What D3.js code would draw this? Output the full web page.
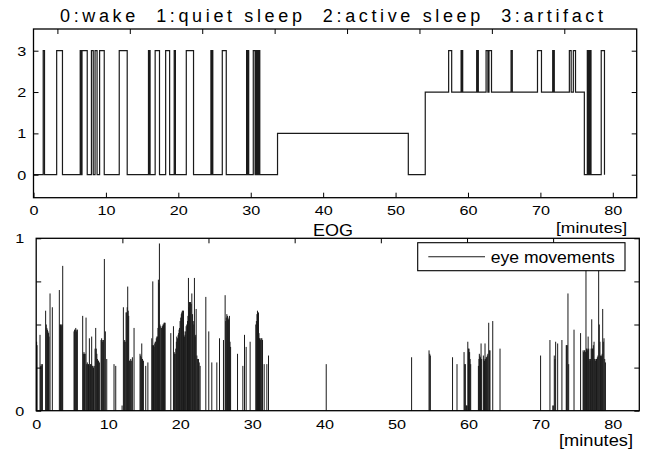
<!DOCTYPE html>
<html><head><meta charset="utf-8">
<script src="https://cdn.jsdelivr.net/npm/d3@7"></script>
<style>
html,body{margin:0;padding:0;background:#fff;}
svg{display:block;}
text{font-family:"Liberation Sans",Arial,sans-serif;fill:#000;}
</style></head><body>
<svg id="chart" width="651" height="454"></svg>
<script>
// ---------- data ----------
const stageTitle = "0:wake  1:quiet sleep  2:active sleep  3:artifact";
const stageTicks = [0, 1, 2, 3];
const minuteTicks = [0, 10, 20, 30, 40, 50, 60, 70, 80];
const upperTopTicks = [3.3, 13.3, 23.3, 33.3, 43.3, 53.3, 63.3, 73.3];
const lowerTopTicks = [11.96, 23.91, 35.87, 47.83, 59.79, 71.74];
const eogTicks = [0, 0.25, 0.5, 0.75, 1];
const eogLabelled = [0, 1];
const legendLabel = "eye movements";
const xLabel = "[minutes]";
const eogTitle = "EOG";

// sleep stage: state from each time until the next time
const stageTimes = [0, 1.34, 1.52, 3.2, 4.0,
  6.45, 6.52, 6.58, 6.64, 6.7, 7.42,
  8.0, 8.25, 8.5, 8.78, 9.13, 9.77,
  11.84, 12.94,
  15.88, 15.96, 16.02, 16.1,
  16.8, 17.4, 18.25, 18.8, 19.43, 19.6, 21.1, 22.1,
  24.5, 24.58, 24.66, 24.76, 26.07, 26.62,
  29.43, 29.5, 29.6, 29.72,
  30.35, 30.6, 30.7, 30.85, 30.92, 31.05, 31.1, 31.25,
  33.7, 51.76, 54.1,
  57.33, 57.75, 59.05, 59.12, 59.18, 59.27,
  61.2, 61.28, 61.34, 61.43, 62.5, 62.75, 62.9, 63.25,
  65.95, 66.12, 69.6, 70.15, 71.7, 71.78, 71.84, 71.92,
  74.0, 74.25, 74.55, 74.85,
  76.07, 76.48, 76.56, 76.62, 76.7, 76.76, 76.84, 76.9, 76.99,
  78.4, 78.85];
const stageValues = [0, 3, 0, 3, 0,
  3, 0, 3, 0, 3, 0,
  3, 0, 3, 0, 3, 0,
  3, 0,
  3, 0, 3, 0,
  3, 0, 3, 0, 3, 0, 3, 0,
  3, 0, 3, 0, 3, 0,
  3, 0, 3, 0,
  3, 0, 3, 0, 3, 0, 3, 0,
  1, 0, 2,
  3, 2, 3, 2, 3, 2,
  3, 2, 3, 2, 3, 2, 3, 2,
  3, 2, 3, 2, 3, 2, 3, 2,
  3, 2, 3, 2,
  0, 3, 0, 3, 0, 3, 0, 3, 0,
  3, 0];

// EOG eye movement amplitudes
const eogTimes = [0.06, 0.12, 0.53, 0.62, 0.7, 0.78, 0.86,
  1.31, 1.4, 1.48, 1.56, 1.64, 1.72, 1.78, 1.92, 2.24,
  3.21, 3.3, 3.38, 3.46, 3.54, 3.62, 3.68,
  5.25, 5.33, 5.41, 5.49, 5.57, 5.65, 5.71,
  6.45, 6.55, 6.63, 6.71, 6.8, 6.92, 7.01, 7.09, 7.17, 7.26, 7.38, 7.47, 7.55, 7.62, 7.7, 7.78, 7.86, 7.95, 8.05,
  8.17, 8.26, 8.34, 8.42, 8.5, 8.58, 8.66, 8.77,
  9.0, 9.08, 9.16, 9.24, 9.33, 9.46, 9.6, 9.79,
  10.8, 11.04,
  11.92, 12.1, 12.2, 12.28, 12.36, 12.47, 12.56, 12.63, 12.7, 12.77, 12.84, 12.93, 13.03, 13.12, 13.2, 13.35, 13.58,
  14.41, 14.5, 14.58, 14.65, 14.75, 14.88, 15.2, 15.5,
  16.04, 16.12, 16.18, 16.28, 16.36, 16.45, 16.52, 16.59, 16.67, 16.75, 16.82, 16.9, 16.96, 17.03, 17.1, 17.18, 17.29, 17.38,
  17.52, 17.6, 17.66, 17.74, 17.82, 17.89,
  18.68,
  19.05, 19.15, 19.22, 19.28, 19.38, 19.45, 19.51, 19.6, 19.7, 19.77, 19.83, 19.9, 19.97, 20.06, 20.14, 20.2, 20.28, 20.36, 20.44,
  20.5, 20.57, 20.66, 20.74, 20.81, 20.9, 21.0, 21.06, 21.13, 21.2, 21.27, 21.35, 21.43, 21.51, 21.6, 21.7, 21.8, 21.88, 21.96,
  22.06, 22.14, 22.2, 22.3, 22.4, 22.52, 22.62, 22.75,
  23.54, 23.95, 24.37, 25.07, 25.44, 25.99,
  26.22, 26.3, 26.38, 26.46, 26.54, 26.62, 26.7, 26.82, 26.9, 26.98,
  27.94, 28.68, 28.91, 29.14, 29.69,
  30.48, 30.56, 30.64, 30.71, 30.78, 30.85, 30.92, 30.99, 31.07, 31.15, 31.23, 31.32, 31.41, 31.64, 32.01, 32.24,
  40.25, 52.1, 54.52, 54.62, 54.7,
  57.78, 58.4,
  59.38, 59.47, 59.56, 59.65, 59.73, 59.81, 59.9, 60.0, 60.07, 60.15, 60.22, 60.3,
  61.37, 61.45, 61.5, 61.58, 61.66, 61.74, 61.82,
  62.06, 62.14, 62.22, 62.29, 62.37, 62.45, 62.52, 62.6, 62.68, 62.8, 62.9, 62.98,
  63.36, 64.37,
  70.0, 71.3, 71.7, 71.77, 71.9, 72.0, 72.09, 72.37, 72.96, 73.56, 73.62, 73.7, 73.8, 73.9, 74.64, 75.55,
  75.9, 75.98, 76.06, 76.14, 76.22, 76.3, 76.38, 76.46, 76.54, 76.6, 76.68, 76.76, 76.86, 76.94, 77.02, 77.1, 77.18, 77.24,
  77.32, 77.42, 77.5, 77.6, 77.68, 77.76, 77.88, 77.96, 78.06, 78.15, 78.24, 78.32, 78.39, 78.47, 78.55, 78.62, 78.7, 78.8, 78.9, 79.0];
const eogValues = [0.40, 0.38, 0.44, 0.26, 0.27, 0.26, 0.27,
  0.58, 0.50, 0.48, 0.47, 0.46, 0.45, 0.43, 0.68, 0.60,
  0.70, 0.50, 0.50, 0.49, 0.50, 0.50, 0.84,
  0.46, 0.47, 0.47, 0.48, 0.46, 0.47, 0.47,
  0.55, 0.33, 0.34, 0.33, 0.33, 0.54, 0.27, 0.28, 0.27, 0.27, 0.42, 0.26, 0.27, 0.27, 0.43, 0.26, 0.26, 0.25, 0.26,
  0.36, 0.48, 0.36, 0.33, 0.30, 0.29, 0.29, 0.28,
  0.41, 0.42, 0.41, 0.40, 0.41, 0.88, 0.46, 0.30,
  0.27, 0.26,
  0.03, 0.60, 0.40, 0.41, 0.40, 0.57, 0.57, 0.60, 0.72, 0.58, 0.55, 0.29, 0.29, 0.30, 0.29, 0.31, 0.48,
  0.33, 0.32, 0.31, 0.39, 0.30, 0.29, 0.26, 0.28,
  0.42, 0.38, 0.75, 0.38, 0.37, 0.39, 0.40, 0.40, 0.42, 0.43, 0.43, 0.48, 0.76, 0.74, 0.97, 0.50, 0.49, 0.48,
  0.49, 0.50, 0.50, 0.51, 0.51, 0.51,
  0.45,
  0.49, 0.34, 0.33, 0.33, 0.36, 0.40, 0.43, 0.42, 0.44, 0.45, 0.47, 0.48, 0.52, 0.54, 0.56, 0.57, 0.58, 0.58, 0.58,
  0.46, 0.43, 0.44, 0.46, 0.49, 0.50, 0.52, 0.55, 0.77, 0.60, 0.63, 0.63, 0.63, 0.62, 0.68, 0.56, 0.52, 0.50, 0.77,
  0.43, 0.44, 0.59, 0.32, 0.30, 0.30, 0.28, 0.26,
  0.66, 0.46, 0.28, 0.28, 0.42, 0.41,
  0.67, 0.52, 0.54, 0.56, 0.55, 0.54, 0.53, 0.55, 0.40, 0.37,
  0.33, 0.26, 0.44, 0.37, 0.40,
  0.50, 0.52, 0.56, 0.58, 0.56, 0.57, 0.45, 0.42, 0.42, 0.41, 0.42, 0.42, 0.41, 0.27, 0.27, 0.32,
  0.27, 0.31, 0.35, 0.33, 0.32,
  0.31, 0.27,
  0.34, 0.27, 0.27, 0.03, 0.03, 0.03, 0.40, 0.36, 0.36, 0.34, 0.30, 0.27,
  0.26, 0.30, 0.33, 0.32, 0.31, 0.39, 0.30,
  0.32, 0.30, 0.29, 0.39, 0.30, 0.31, 0.31, 0.32, 0.33, 0.51, 0.35, 0.35,
  0.52, 0.36,
  0.32, 0.41, 0.03, 0.03, 0.32, 0.30, 0.40, 0.39, 0.41, 0.38, 0.38, 0.38, 0.68, 0.27, 0.47, 0.45,
  0.35, 0.34, 0.35, 0.35, 0.34, 0.90, 0.36, 0.36, 0.35, 0.43, 0.36, 0.30, 0.29, 0.30, 0.36, 0.53, 0.36, 0.36,
  0.38, 0.40, 0.30, 0.29, 0.30, 0.30, 0.31, 0.32, 0.90, 0.50, 0.40, 0.32, 0.31, 0.32, 0.33, 0.59, 0.40, 0.42, 0.30, 0.28];

// ---------- drawing ----------
const svg = d3.select("#chart");
const TX = 1.2; // horizontal stretch of tick-label glyphs
const intFmt = d3.format("d");

// ===== top panel =====
const xTop = d3.scaleLinear().domain([0, 83.3]).range([33.5, 636.7]);
const yTop = d3.scaleLinear().domain([-0.556, 3.525]).range([197.7, 29]);
const topG = svg.append("g");

const stagePts = stageTimes.map((t, i) => [t, stageValues[i]]);
topG.append("path")
  .attr("d", d3.line().x(d => xTop(d[0])).y(d => yTop(d[1])).curve(d3.curveStepAfter)(stagePts))
  .attr("fill", "none").attr("stroke", "#1a1a1a").attr("stroke-width", 1.2);

function styleAxis(g, scaleText) {
  g.select(".domain").remove();
  g.selectAll(".tick line").attr("stroke", "#000").attr("stroke-width", 1);
  g.selectAll(".tick text").attr("font-size", 13.5)
    .attr("font-family", "'Liberation Sans', Arial, sans-serif")
    .attr("transform", scaleText ? `scale(${TX},1)` : null);
}

topG.append("g").attr("transform", `translate(0,${yTop.range()[0]})`)
  .call(d3.axisBottom(xTop).tickValues(minuteTicks).tickFormat(intFmt).tickSizeInner(-5).tickSizeOuter(0).tickPadding(8))
  .call(g => styleAxis(g, true));
topG.append("g").attr("transform", `translate(0,${yTop.range()[1]})`)
  .call(d3.axisTop(xTop).tickValues(upperTopTicks).tickSizeInner(-5).tickSizeOuter(0).tickFormat(""))
  .call(g => styleAxis(g, false));
topG.append("g").attr("transform", `translate(${xTop.range()[0]},0)`)
  .call(d3.axisLeft(yTop).tickValues(stageTicks).tickFormat(intFmt).tickSizeInner(-5).tickSizeOuter(0).tickPadding(6))
  .call(g => styleAxis(g, true));
topG.append("g").attr("transform", `translate(${xTop.range()[1]},0)`)
  .call(d3.axisRight(yTop).tickValues(stageTicks).tickSizeInner(-5).tickSizeOuter(0).tickFormat(""))
  .call(g => styleAxis(g, false));

topG.append("rect")
  .attr("x", xTop.range()[0]).attr("y", yTop.range()[1])
  .attr("width", xTop.range()[1] - xTop.range()[0]).attr("height", yTop.range()[0] - yTop.range()[1])
  .attr("fill", "none").attr("stroke", "#000").attr("stroke-width", 1.3);

topG.append("text").attr("x", 60).attr("y", 21.5)
  .attr("font-family", "'Liberation Mono','Courier New',monospace").attr("font-size", 18)
  .attr("textLength", 543).attr("lengthAdjust", "spacing")
  .style("white-space", "pre")
  .text(stageTitle);

topG.append("text").attr("x", 556).attr("y", 233)
  .attr("font-size", 15.5).attr("textLength", 71).attr("lengthAdjust", "spacingAndGlyphs")
  .text(xLabel);

// ===== bottom panel =====
const xBot = d3.scaleLinear().domain([0, 83.7]).range([36.2, 639.3]);
const yBot = d3.scaleLinear().domain([0, 1]).range([410.7, 238.3]);
const botG = svg.append("g");

const eogPts = eogTimes.map((t, i) => ({t, v: eogValues[i]}));
botG.append("g").selectAll("line").data(eogPts).join("line")
  .attr("x1", d => xBot(d.t)).attr("x2", d => xBot(d.t))
  .attr("y1", yBot(0)).attr("y2", d => yBot(d.v))
  .attr("stroke", "#1a1a1a").attr("stroke-width", 1.0);

botG.append("g").attr("transform", `translate(0,${yBot.range()[0]})`)
  .call(d3.axisBottom(xBot).tickValues(minuteTicks).tickFormat(intFmt).tickSize(0).tickPadding(9))
  .call(g => styleAxis(g, true));
botG.append("g").attr("transform", `translate(0,${yBot.range()[1]})`)
  .call(d3.axisTop(xBot).tickValues(lowerTopTicks).tickSizeInner(-5).tickSizeOuter(0).tickFormat(""))
  .call(g => styleAxis(g, false));
botG.append("g").attr("transform", `translate(${xBot.range()[0]},0)`)
  .call(d3.axisLeft(yBot).tickValues(eogTicks).tickSizeInner(-5).tickSizeOuter(0).tickPadding(10)
    .tickFormat(d => eogLabelled.includes(d) ? intFmt(d) : ""))
  .call(g => styleAxis(g, true));
botG.append("g").attr("transform", `translate(${xBot.range()[1]},0)`)
  .call(d3.axisRight(yBot).tickValues(eogTicks).tickSizeInner(-5).tickSizeOuter(0).tickFormat(""))
  .call(g => styleAxis(g, false));

botG.append("rect")
  .attr("x", xBot.range()[0]).attr("y", yBot.range()[1])
  .attr("width", xBot.range()[1] - xBot.range()[0]).attr("height", yBot.range()[0] - yBot.range()[1])
  .attr("fill", "none").attr("stroke", "#000").attr("stroke-width", 1.3);

// legend
const leg = botG.append("g");
leg.append("rect").attr("x", 417.7).attr("y", 242.7).attr("width", 207.3).attr("height", 28)
  .attr("fill", "#fff").attr("stroke", "#000").attr("stroke-width", 1.1);
leg.append("line").attr("x1", 428.3).attr("x2", 485).attr("y1", 256.7).attr("y2", 256.7)
  .attr("stroke", "#1a1a1a").attr("stroke-width", 1.1);
leg.append("text").attr("x", 490.7).attr("y", 262.5).attr("font-size", 17)
  .attr("textLength", 124).attr("lengthAdjust", "spacingAndGlyphs").text(legendLabel);

botG.append("text").attr("x", 313).attr("y", 235.5)
  .attr("font-family", "'Liberation Mono','Courier New',monospace").attr("font-size", 17)
  .attr("textLength", 40).attr("lengthAdjust", "spacingAndGlyphs").text(eogTitle);

botG.append("text").attr("x", 559).attr("y", 446)
  .attr("font-size", 16).attr("textLength", 74).attr("lengthAdjust", "spacingAndGlyphs")
  .text(xLabel);
</script>
</body></html>
